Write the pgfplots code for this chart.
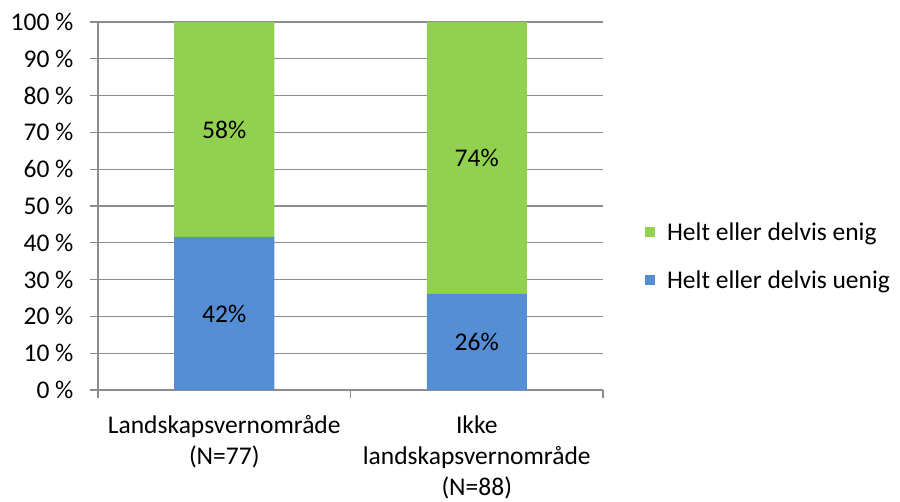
\documentclass[border=0pt]{standalone}
\usepackage{pgfplots}
\pgfplotsset{compat=1.18}
\usepackage{fontspec}
\setmainfont{Carlito}
\definecolor{cgreen}{HTML}{92D050}
\definecolor{cblue}{HTML}{558ED5}
\definecolor{cgrid}{HTML}{8C8C8C}
\begin{document}
\begin{tikzpicture}
\begin{axis}[
  at={(0pt,0pt)}, anchor=south west,
  scale only axis, width=505pt, height=368pt,
  ybar stacked, bar width=100pt,
  xmin=-0.5, xmax=1.5, ymin=0, ymax=100,
  axis lines=left, axis line style={cgrid, line width=1.1pt, -},
  ytick={0,10,...,100},
  yticklabel={\pgfmathprintnumber{\tick}~\%},
  /pgf/number format/assume math mode=true,
  ymajorgrids, grid style={cgrid, line width=1.1pt},
  tick style={cgrid, line width=1.1pt},
  tick align=outside, major tick length=8pt,
  xtick={0,1},
  xticklabels={{Landskapsvernområde\\(N=77)},{Ikke\\landskapsvernområde\\(N=88)}},
  major x tick style={draw=none},
  minor xtick={-0.5,0.5,1.5},
  minor x tick style={cgrid, line width=1.1pt},
  minor tick length=8pt,
  xminorgrids=false,
  ticklabel style={font=\fontsize{25.5}{31}\selectfont, text=black},
  xticklabel style={align=center, anchor=north, yshift=-14pt},
  yticklabel style={anchor=east, xshift=-13pt},
  nodes near coords,
  point meta=explicit symbolic,
  every node near coord/.append style={anchor=center, font=\fontsize{25.5}{30}\selectfont, text=black},
  legend style={draw=none, at={(1.083,0.365)}, anchor=west, font=\fontsize{25.5}{30}\selectfont, row sep=30pt, fill=none, inner sep=0pt, nodes={inner sep=0pt, text depth=0pt}},
  legend cell align=left,
  reverse legend,
  legend image code/.code={\fill[#1] (0pt,-5pt) rectangle (10pt,5pt); \path (22pt,0pt);},
]
\addplot[fill=cblue, draw=none] table[meta=lab] {
x y lab
0 41.6 42\%
1 26.1 26\%
};
\addplot[fill=cgreen, draw=none] table[meta=lab] {
x y lab
0 58.4 58\%
1 73.9 74\%
};
\legend{Helt eller delvis uenig, Helt eller delvis enig}
\end{axis}
\pgfresetboundingbox
\useasboundingbox (-98pt,-111pt) rectangle (802pt,390pt);
\end{tikzpicture}
\end{document}
